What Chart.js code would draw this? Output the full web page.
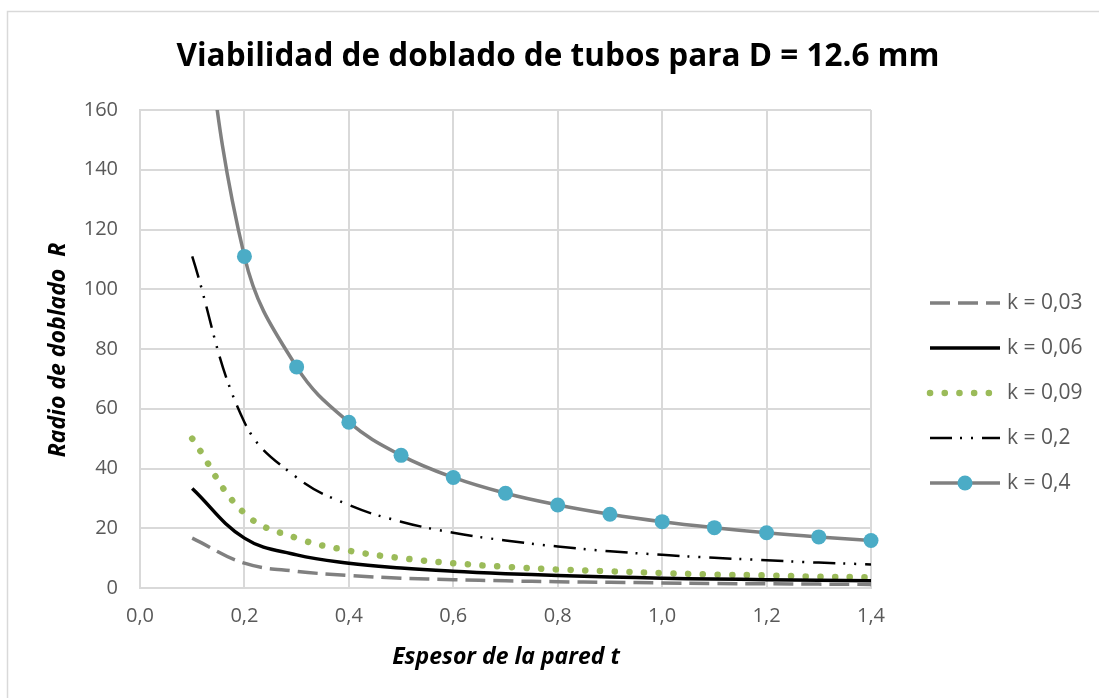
<!DOCTYPE html>
<html lang="es">
<head>
<meta charset="UTF-8">
<title>Viabilidad de doblado de tubos</title>
<script src="https://cdn.jsdelivr.net/npm/chart.js@4.4.1/dist/chart.umd.min.js"></script>
<style>
  html, body { margin: 0; padding: 0; background: #fff; }
  #wrap { width: 1099px; height: 698px; position: relative; }
</style>
</head>
<body>
<div id="wrap"><canvas id="chart" width="1099" height="698"></canvas></div>
<script>
// espesor de la pared t
const espesores = [0.1, 0.2, 0.3, 0.4, 0.5, 0.6, 0.7, 0.8, 0.9, 1.0, 1.1, 1.2, 1.3, 1.4];

const radioK003 = [16.7, 8.3, 5.6, 4.2, 3.3, 2.8, 2.4, 2.1, 1.9, 1.7, 1.5, 1.4, 1.3, 1.2];
const radioK006 = [33.3, 16.7, 11.1, 8.3, 6.7, 5.6, 4.8, 4.2, 3.7, 3.3, 3.0, 2.8, 2.6, 2.4];
const radioK009 = [50.0, 25.0, 16.7, 12.5, 10.0, 8.3, 7.1, 6.2, 5.6, 5.0, 4.5, 4.2, 3.8, 3.6];
const radioK02  = [111, 55.5, 37.0, 27.8, 22.2, 18.5, 15.9, 13.9, 12.3, 11.1, 10.1, 9.3, 8.5, 7.9];
const radioK04  = [222, 111, 74.0, 55.5, 44.4, 37.0, 31.7, 27.8, 24.7, 22.2, 20.2, 18.5, 17.1, 15.9];

const etiquetas = ['k = 0,03', 'k = 0,06', 'k = 0,09', 'k = 0,2', 'k = 0,4'];

const FONT = '"Open Sans", "Noto Sans", sans-serif';
const GRIS_TEXTO = '#595959';
const GRID = '#d9d9d9';

function puntos(ys) {
    return espesores.map((t, i) => ({ x: t, y: ys[i] }));
}

const recorte = { left: 12, right: 12, top: 0, bottom: 12 };

const datasets = [
    {
        label: etiquetas[0], data: puntos(radioK003),
        borderColor: '#808080', borderWidth: 3.5, borderDash: [20, 8],
        pointRadius: 0, tension: 0.4, clip: recorte
    },
    {
        label: etiquetas[1], data: puntos(radioK006),
        borderColor: '#000000', borderWidth: 3.5,
        pointRadius: 0, tension: 0.4, clip: recorte
    },
    {
        label: etiquetas[2], data: puntos(radioK009),
        borderColor: '#9bbb59', borderWidth: 6.5, borderDash: [0.1, 14.6], borderCapStyle: 'round',
        pointRadius: 0, tension: 0.4, clip: recorte
    },
    {
        label: etiquetas[3], data: puntos(radioK02),
        borderColor: '#000000', borderWidth: 2.5, borderDash: [22, 8, 2, 9, 2, 9],
        pointRadius: 0, tension: 0.4, clip: recorte
    },
    {
        label: etiquetas[4], data: puntos(radioK04),
        borderColor: '#808080', borderWidth: 3.5,
        pointRadius: 7.5, pointBackgroundColor: '#4bacc6', pointBorderColor: '#4bacc6', pointBorderWidth: 0,
        tension: 0.4, clip: recorte
    }
];

// titulos, marco y leyenda dibujados a mano
const decoracion = {
    id: 'decoracion',
    afterDraw(chart) {
        const ctx = chart.ctx;
        const area = chart.chartArea;
        ctx.save();

        // marco del grafico (solo se ven borde superior e izquierdo)
        ctx.strokeStyle = GRID;
        ctx.lineWidth = 1.5;
        ctx.beginPath();
        ctx.moveTo(7.5, 698);
        ctx.lineTo(7.5, 11.5);
        ctx.lineTo(1099, 11.5);
        ctx.stroke();

        ctx.fillStyle = '#000';
        ctx.textAlign = 'center';
        ctx.textBaseline = 'middle';
        ctx.font = 'bold 31.5px ' + FONT;
        ctx.fillText('Viabilidad de doblado de tubos para D = 12.6 mm', 558, 57);

        ctx.font = 'italic bold 23px ' + FONT;
        ctx.fillText('Espesor de la pared t', 506, 657);

        ctx.save();
        ctx.translate(58, 350);
        ctx.rotate(-Math.PI / 2);
        ctx.fillText('Radio de doblado  R', 0, 0);
        ctx.restore();

        // leyenda
        const x0 = 930, x1 = 1000;
        chart.data.datasets.forEach((ds, i) => {
            const y = 303 + i * 45;
            ctx.save();
            ctx.strokeStyle = ds.borderColor;
            ctx.lineWidth = ds.borderWidth;
            ctx.lineCap = ds.borderCapStyle || 'butt';
            ctx.setLineDash(ds.borderDash || []);
            ctx.beginPath();
            ctx.moveTo(x0, y);
            ctx.lineTo(x1, y);
            ctx.stroke();
            ctx.restore();
            if (ds.pointRadius > 0) {
                ctx.fillStyle = ds.pointBackgroundColor;
                ctx.beginPath();
                ctx.arc((x0 + x1) / 2, y, ds.pointRadius, 0, Math.PI * 2);
                ctx.fill();
            }
            ctx.fillStyle = GRIS_TEXTO;
            ctx.font = '21px ' + FONT;
            ctx.textAlign = 'left';
            ctx.fillText(ds.label, 1007, y);
        });

        ctx.restore();
    }
};

new Chart(document.getElementById('chart'), {
    type: 'line',
    data: { datasets: datasets },
    options: {
        responsive: false,
        animation: false,
        events: [],
        layout: { padding: { left: 0, top: 110, right: 228, bottom: 0 } },
        plugins: {
            legend: { display: false },
            title: { display: false },
            tooltip: { enabled: false }
        },
        scales: {
            x: {
                type: 'linear',
                min: 0,
                max: 1.4,
                afterFit(scale) { scale.height = 110; },
                ticks: {
                    stepSize: 0.2,
                    padding: 16,
                    color: GRIS_TEXTO,
                    font: { family: FONT, size: 20 },
                    maxRotation: 0,
                    callback: v => v.toFixed(1).replace('.', ',')
                },
                grid: { color: GRID, lineWidth: 2, drawTicks: false },
                border: { color: GRID, width: 2 }
            },
            y: {
                min: 0,
                max: 160,
                afterFit(scale) { scale.width = 140; },
                ticks: {
                    stepSize: 20,
                    padding: 22,
                    color: GRIS_TEXTO,
                    font: { family: FONT, size: 20 }
                },
                grid: { color: GRID, lineWidth: 2, drawTicks: false },
                border: { color: GRID, width: 2 }
            }
        }
    },
    plugins: [decoracion]
});
</script>
</body>
</html>
